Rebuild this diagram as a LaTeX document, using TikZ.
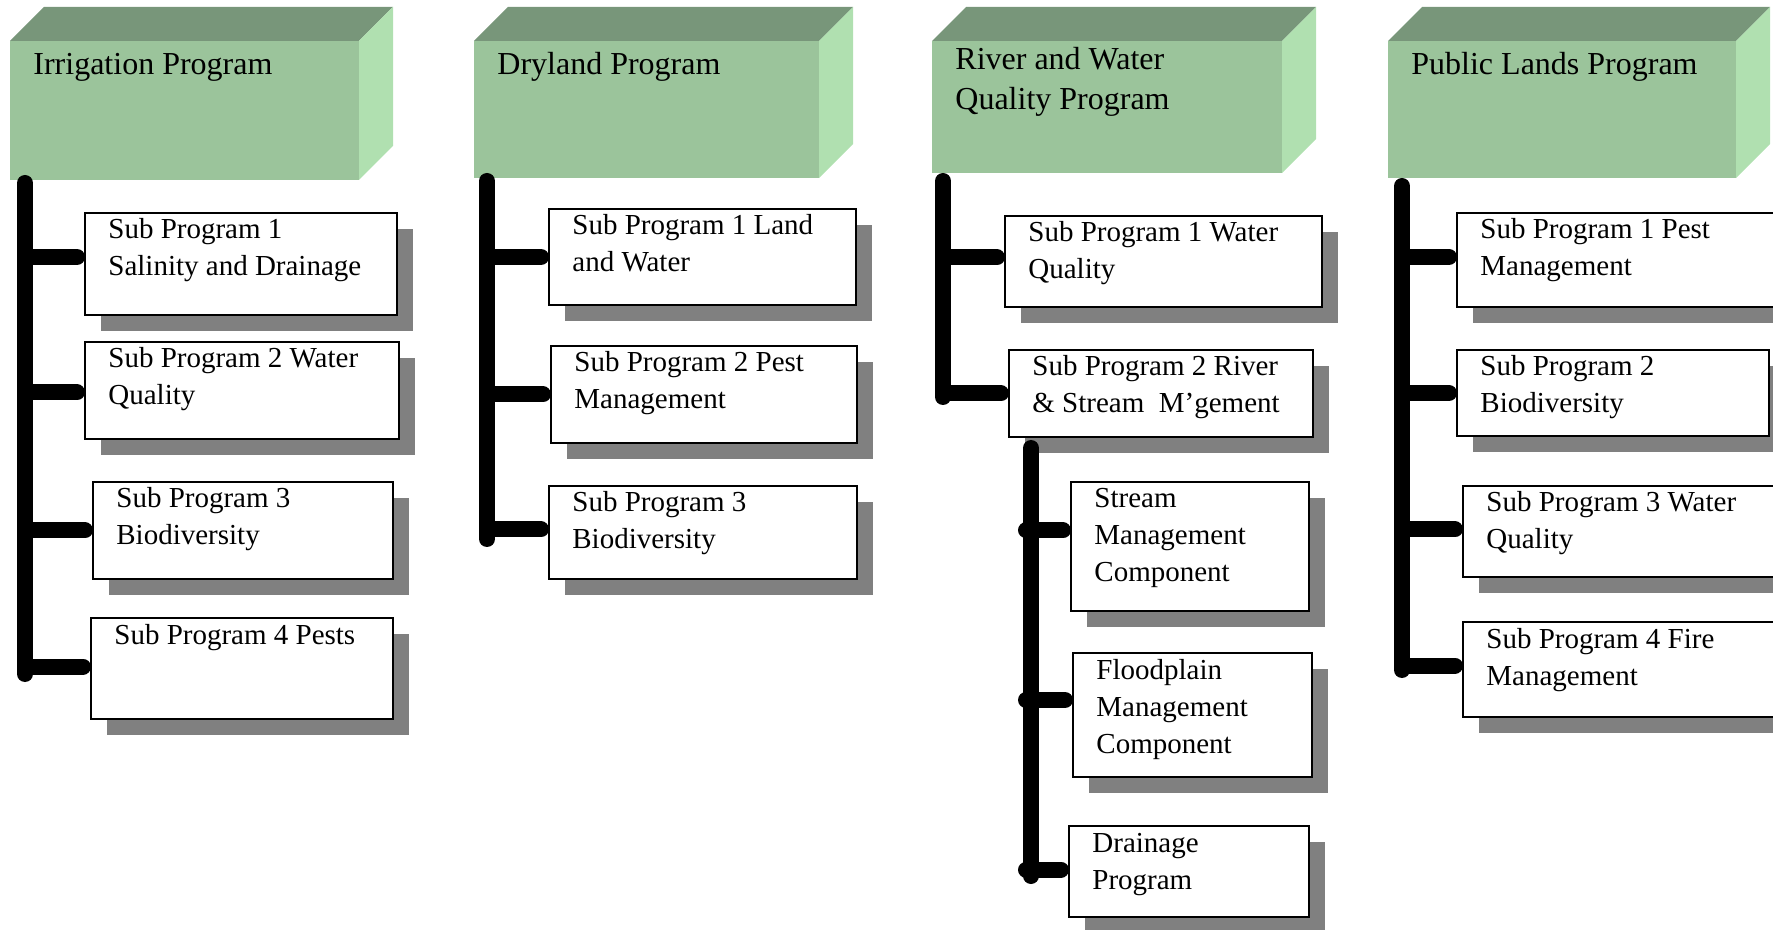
\documentclass[tikz,border=0pt]{standalone}
\usepackage{fontspec}
\setmainfont{Liberation Serif}
\usetikzlibrary{shadows}
\definecolor{gfront}{RGB}{155,196,155}
\definecolor{gtop}{RGB}{120,150,122}
\definecolor{gright}{RGB}{176,224,176}
\definecolor{shade}{RGB}{128,128,128}
\newcommand\subfont{\fontsize{14.5}{18.5}\selectfont}
\newcommand\titfont{\fontsize{16}{20}\selectfont}
\newcommand\toplines[1]{\begin{tabular}[t]{@{}l@{}}#1\end{tabular}}
% name, x1, y1, x2, y2, title, first-baseline offset below top
\newcommand\greenbox[7]{%
  \node[front, minimum width={(#4-#2)*0.5pt}, minimum height={(#5-#3)*0.5pt}] (#1) at ({(#2+#4)/2},{(#3+#5)/2}) {};
  \fill[gtop] (#1.north west) -- ++(34,-34) -- ++({#4-#2},0) -- (#1.north east) -- cycle;
  \fill[gright] (#1.north east) -- ++(34,-34) -- ([shift={(34,-34)}]#1.south east) -- (#1.south east) -- cycle;
  \node[titletext] (#1t) at ([xshift=11.5pt,yshift=-#7]#1.north west) {\toplines{#6}};
}
% name, x1, y1, x2, y2, text
\newcommand\subbox[6]{%
  \node[subbox, minimum width={(#4-#2)*0.5pt}, minimum height={(#5-#3)*0.5pt}] (#1) at ({(#2+#4)/2},{(#3+#5)/2}) {};
  \node[subtext] (#1t) at ([xshift=11.5pt,yshift=-13pt]#1.north west) {\toplines{#6}};
}
% bar coordinate, target node, vertical shift of the joint
\newcommand\branchto[3]{%
  \coordinate (#2j) at ([yshift=#3]#2.west);
  \draw[branch] (#1 |- #2j) -- (#2j);
}
\begin{document}
\begin{tikzpicture}[x=0.5pt,y=-0.5pt,
  front/.style={fill=gfront, inner sep=0pt, outer sep=0pt},
  subbox/.style={draw=black, line width=0.75pt, fill=white, inner sep=0pt, outer sep=0pt,
    drop shadow={shadow xshift=8pt, shadow yshift=-8pt, fill=shade, opacity=1}},
  subtext/.style={inner sep=0pt, font=\subfont, anchor=base west},
  titletext/.style={inner sep=0pt, font=\titfont, anchor=base west},
  bar/.style={line width=8pt, line cap=round, black},
  branch/.style={line width=8pt, line cap=round, black, shorten >=4pt},
]
\useasboundingbox (0,0) rectangle (1773,930);
\clip (0,0) rectangle (1773,930);

% ---- header blocks
\greenbox{irr}{10}{41}{359}{180}{Irrigation Program}{17pt}
\greenbox{dry}{474}{41}{819}{178}{Dryland Program}{17pt}
\greenbox{riv}{932}{41}{1282}{173}{River and Water\\Quality Program}{14.5pt}
\greenbox{pub}{1388}{41}{1736}{178}{Public Lands Program}{17pt}

% ---- Irrigation
\subbox{i1}{85}{213}{397}{315}{Sub Program 1\\Salinity and Drainage}
\subbox{i2}{85}{342}{399}{439}{Sub Program 2 Water\\Quality}
\subbox{i3}{93}{482}{393}{579}{Sub Program 3\\Biodiversity}
\subbox{i4}{91}{618}{393}{719}{Sub Program 4 Pests}

% ---- Dryland
\subbox{d1}{549}{209}{856}{305}{Sub Program 1 Land\\and Water}
\subbox{d2}{551}{346}{857}{443}{Sub Program 2 Pest\\Management}
\subbox{d3}{549}{486}{857}{579}{Sub Program 3\\Biodiversity}

% ---- River and Water Quality
\subbox{r1}{1005}{216}{1322}{307}{Sub Program 1 Water\\Quality}
\subbox{r2}{1009}{350}{1313}{437}{Sub Program 2 River\\\&~Stream\ \ M’gement}
\subbox{r3}{1071}{482}{1309}{611}{Stream\\Management\\Component}
\subbox{r4}{1073}{653}{1312}{777}{Floodplain\\Management\\Component}
\subbox{r5}{1069}{826}{1309}{917}{Drainage\\Program}

% ---- Public Lands
\subbox{p1}{1457}{213}{1780}{307}{Sub Program 1 Pest\\Management}
\subbox{p2}{1457}{350}{1769}{436}{Sub Program 2\\Biodiversity}
\subbox{p3}{1463}{486}{1780}{577}{Sub Program 3 Water\\Quality}
\subbox{p4}{1463}{622}{1780}{717}{Sub Program 4 Fire\\Management}

% ---- connectors
\coordinate (iTop) at (25,183);   \coordinate (iBot) at (25,674);
\coordinate (dTop) at (487,181);  \coordinate (dBot) at (487,539);
\coordinate (rTop) at (943,181);  \coordinate (rBot) at (943,397);
\coordinate (sTop) at (1031,448); \coordinate (sBot) at (1031,876);
\coordinate (sLeft) at (1026,448);
\coordinate (pTop) at (1402,186); \coordinate (pBot) at (1402,670);

\draw[bar] (iTop) -- (iBot);
\branchto{iTop}{i1}{3.5pt}
\branchto{iTop}{i2}{-1pt}
\branchto{iTop}{i3}{0pt}
\branchto{iTop}{i4}{1pt}

\draw[bar] (dTop) -- (dBot);
\branchto{dTop}{d1}{0pt}
\branchto{dTop}{d2}{0pt}
\branchto{dTop}{d3}{1.5pt}

\draw[bar] (rTop) -- (rBot);
\branchto{rTop}{r1}{2pt}
\branchto{rTop}{r2}{0pt}

\draw[bar] (sTop) -- (sBot);
\branchto{sLeft}{r3}{8pt}
\branchto{sLeft}{r4}{7.5pt}
\branchto{sLeft}{r5}{1pt}

\draw[bar] (pTop) -- (pBot);
\branchto{pTop}{p1}{1.5pt}
\branchto{pTop}{p2}{0pt}
\branchto{pTop}{p3}{1pt}
\branchto{pTop}{p4}{2pt}
\end{tikzpicture}
\end{document}
